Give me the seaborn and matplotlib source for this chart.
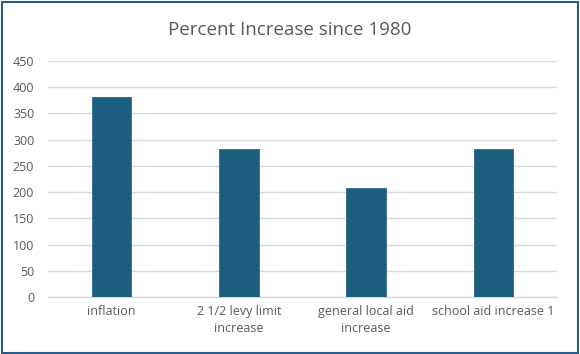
import matplotlib
matplotlib.use("Agg")
import matplotlib.pyplot as plt
import seaborn as sns
import pandas as pd
from matplotlib.patches import Rectangle

categories = ["inflation", "2 1/2 levy limit\nincrease", "general local aid\nincrease", "school aid increase 1"]
values = [381, 282, 207, 282]
yticks = [0, 50, 100, 150, 200, 250, 300, 350, 400, 450]

sns.set_theme(style="white")
plt.rcParams['font.family'] = ['Open Sans', 'DejaVu Sans']

df = pd.DataFrame({"cat": categories, "val": values})

fig = plt.figure(figsize=(5.8, 3.54), dpi=100)
ax = fig.add_axes([0.083, 0.161, 0.877, 0.667])
sns.barplot(data=df, x="cat", y="val", ax=ax, color="#1b5e80", width=0.31,
            saturation=1, edgecolor="#2a6a8c", linewidth=0.6, zorder=3)
ax.set_ylim(0, 450)
ax.set_yticks(yticks)
ax.set_xlabel("")
ax.set_ylabel("")
ax.yaxis.grid(True, color="#d9d9d9", linewidth=1, zorder=0)
ax.set_axisbelow(True)
for s in ["top", "right", "left"]:
    ax.spines[s].set_visible(False)
ax.spines["bottom"].set_color("#d9d9d9")
ax.spines["bottom"].set_linewidth(1)
ax.tick_params(axis="y", length=0, labelsize=9, labelcolor="#595959", pad=10)
ax.tick_params(axis="x", length=0, labelsize=9, labelcolor="#595959", pad=6)
for lbl in ax.get_xticklabels():
    lbl.set_linespacing(1.4)

fig.text(0.5, 0.915, "Percent Increase since 1980", ha="center", va="center",
         fontsize=13.5, color="#595959")

fig.patches.append(Rectangle((0.003, 0.004), 0.994, 0.99, transform=fig.transFigure,
                             fill=False, edgecolor="#2a5d86", linewidth=1.5))

fig.savefig("out.png", dpi=100)
